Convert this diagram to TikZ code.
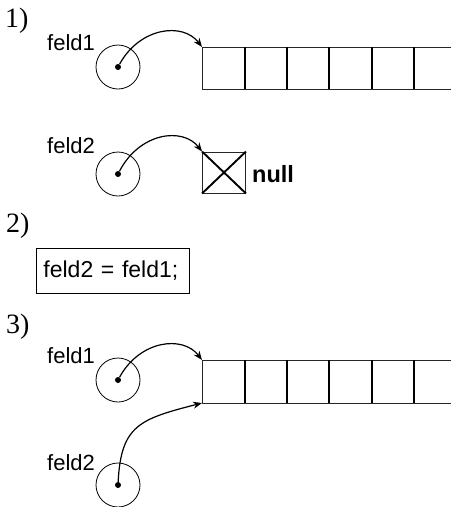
\documentclass[tikz,border=0pt]{standalone}
\usepackage{fontspec}
\setmainfont{Liberation Sans}
\newfontfamily\serifnum{Liberation Serif}
\usetikzlibrary{arrows.meta}
\begin{document}
\begin{tikzpicture}[x=1pt,y=-1pt,
  lbl/.style={font=\fontsize{22}{25}\selectfont, inner sep=0pt, anchor=base west},
  num/.style={font=\serifnum\fontsize{28}{32}\selectfont, inner sep=0pt, anchor=base west},
  var/.style={draw, circle, minimum size=44pt, inner sep=0pt, line width=0.8pt},
  dotnode/.style={fill, circle, minimum size=6pt, inner sep=0pt},
  ptr/.style={line width=1.2pt, -{Stealth[length=9pt,width=7pt]}},
  rim/.style={line width=0.9pt, draw=black!85},
  sep/.style={line width=1.4pt},
]
\useasboundingbox (0,0) rectangle (451,507);

% ---------- part 1 ----------
\node[num] (n1) at (5,27) {1)};
\node[lbl] (l1) at (47,50) {feld1};
\node[var] (c1) at (118,67) {};
\node[dotnode] (d1) at (118,67) {};
\coordinate (a1) at (202,47);
\coordinate (a1b) at (202,89);
\draw[rim] (451,47) -- (a1) -- (a1b) -- (451,89);
\foreach \x in {245,287,329,372,414} \draw[sep] (\x,47) -- (\x,89);
\draw[ptr] (d1) .. controls (140,27) and (183,22) .. (a1);

\node[lbl] (l2) at (47,153) {feld2};
\node[var] (c2) at (118,174) {};
\node[dotnode] (d2) at (118,174) {};
\node[draw, rim, minimum width=43pt, minimum height=41pt, inner sep=0pt] (nb) at (224,172.5) {};
\draw[line width=1.9pt] (nb.north west) -- (nb.south east);
\draw[line width=1.9pt] (nb.south west) -- (nb.north east);
\node[lbl, font=\bfseries\fontsize{23.5}{26}\selectfont] (nl) at (252,182) {null};
\draw[ptr] (d2) .. controls (140,132) and (183,127) .. (nb.north west);

% ---------- part 2 ----------
\node[num] (n2) at (6,232) {2)};
\node[draw, line width=0.9pt, minimum height=45pt, inner xsep=7pt, inner ysep=0pt,
      text width=139pt, align=left,
      font=\fontsize{23}{26}\selectfont, anchor=west] (code) at (36,270.5) {feld2 = feld1;};

% ---------- part 3 ----------
\node[num] (n3) at (6,333) {3)};
\node[lbl] (l3) at (47,363) {feld1};
\node[var] (c3) at (118,380) {};
\node[dotnode] (d3) at (118,380) {};
\coordinate (a3) at (202,360);
\coordinate (a3b) at (202,403);
\draw[rim] (451,360) -- (a3) -- (a3b) -- (451,403);
\foreach \x in {245,287,329,372,414} \draw[sep] (\x,360) -- (\x,403);
\draw[ptr] (d3) .. controls (140,340) and (183,335) .. (a3);

\node[lbl] (l4) at (47,470) {feld2};
\node[var] (c4) at (118,485) {};
\node[dotnode] (d4) at (118,485) {};
\draw[ptr] (d4) .. controls (121,425) and (140,419) .. (a3b);
\end{tikzpicture}
\end{document}
